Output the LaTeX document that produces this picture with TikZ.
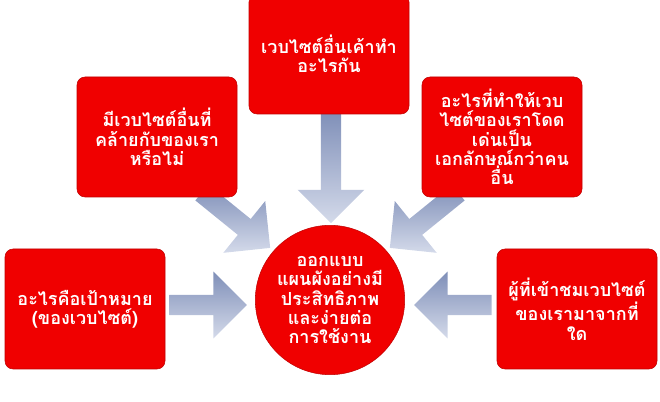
\documentclass[tikz,border=0pt]{standalone}
\usepackage{fontspec}
\newfontfamily\thaifont[Script=Thai]{Loma}
\usetikzlibrary{shapes.arrows}
\definecolor{boxred}{HTML}{F00000}
\definecolor{boxedge}{HTML}{C00000}
\definecolor{arrowdark}{HTML}{7F8FB8}
\definecolor{arrowlight}{HTML}{D4DAEA}
\begin{document}
\begin{tikzpicture}[
    x=0.75pt, y=-0.75pt,
    % styles for the red boxes and the grey arrows
    idea_box/.style={draw=boxedge, fill=boxred, rounded corners=6pt,
      minimum width=120pt, minimum height=90pt, align=center,
      text=white, font=\thaifont\bfseries\fontsize{13.5}{14.5}\selectfont, inner sep=2pt},
    hub_circle/.style={circle, draw=boxedge, fill=boxred, minimum size=112pt,
      align=center, text=white, font=\thaifont\bfseries\fontsize{13.5}{14.5}\selectfont, inner sep=0pt},
    flow_arrow/.style={single arrow, minimum width=50pt, single arrow head extend=8pt,
      shading=axis, left color=arrowdark, right color=arrowlight, shading angle=0}
  ]
  \useasboundingbox (0,0) rectangle (660,402);

  % --- arrows (drawn first, under the boxes) ---
  \node[flow_arrow, minimum height=84pt, rotate=-90] (a_top) at (331,162) {};
  \node[flow_arrow, minimum height=66pt, rotate=-39] (a_ul) at (232,217) {};
  \node[flow_arrow, minimum height=66pt, rotate=-141] (a_ur) at (428,217) {};
  \node[flow_arrow, minimum height=58pt, rotate=0] (a_left) at (203,305) {};
  \node[flow_arrow, minimum height=58pt, rotate=180] (a_right) at (458,305) {};

  % --- boxes ---
  \node[idea_box] (top) at (329,54) {เวบไซต์อื่นเค้าทำ\\อะไรกัน};
  \node[idea_box] (upleft) at (157,137) {มีเวบไซต์อื่นที่\\คล้ายกับของเรา\\หรือไม่};
  \node[idea_box] (upright) at (502,137) {อะไรที่ทำให้เวบ\\ไซต์ของเราโดด\\เด่นเป็น\\เอกลักษณ์กว่าคน\\อื่น};
  \node[idea_box] (left) at (85,309) {อะไรคือเป้าหมาย\\(ของเวบไซต์)};
  \node[idea_box] (right) at (577,309) {ผู้ที่เข้าชมเวบไซต์\\ของเรามาจากที่\\ใด};

  % --- centre ---
  \node[hub_circle] (hub) at (330,300) {ออกแบบ\\แผนผังอย่างมี\\ประสิทธิภาพ\\และง่ายต่อ\\การใช้งาน};
\end{tikzpicture}
\end{document}
